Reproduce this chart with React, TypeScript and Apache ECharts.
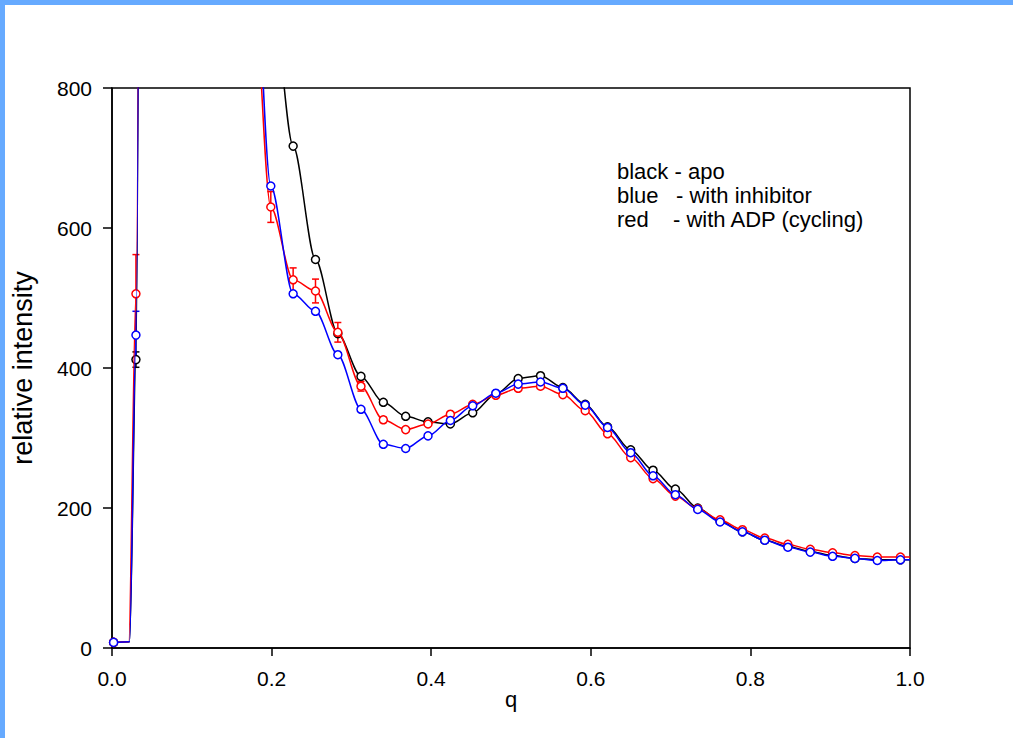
import React, { useEffect, useRef } from "react";
import * as echarts from "echarts";

// scattering vector q of the measured points (k = 0..35)
const Q = [
  0.002, 0.030, 0.058, 0.086, 0.114, 0.143, 0.171, 0.199, 0.227, 0.255,
  0.283, 0.312, 0.340, 0.368, 0.396, 0.424, 0.452, 0.481, 0.509, 0.537,
  0.565, 0.593, 0.621, 0.650, 0.678, 0.706, 0.734, 0.762, 0.790, 0.818,
  0.847, 0.875, 0.903, 0.931, 0.959, 0.988,
];

// black - apo
const APO = [
  8, 412, 12000, 9000, 6000, 3000, 1500, 950, 717, 555,
  449, 388, 351, 331, 323, 320, 336, 363, 385, 389,
  372, 348, 316, 283, 254, 227, 200, 181, 166, 154,
  145, 138, 132, 128, 126, 126,
];
const APO_ERR = [
  0, 11, 0, 0, 0, 0, 0, 0, 0, 0, 0, 0, 0, 0, 0, 0, 0, 0, 0, 0,
  0, 0, 0, 0, 0, 0, 0, 0, 0, 0, 0, 0, 0, 0, 0, 0,
];

// red - with ADP (cycling)
const ADP = [
  8, 506, 12000, 9000, 5000, 2500, 1080, 630, 526, 510,
  451, 374, 326, 312, 320, 334, 348, 361, 371, 374,
  362, 339, 306, 272, 242, 217, 199, 183, 169, 157,
  148, 141, 136, 132, 130, 130,
];
const ADP_ERR = [
  0, 56, 0, 0, 0, 0, 0, 22, 17, 17, 14, 7, 4, 3, 0, 0, 0, 0, 0, 0,
  0, 0, 0, 0, 0, 0, 0, 0, 0, 0, 0, 0, 0, 0, 0, 0,
];

// blue - with inhibitor
const INHIB = [
  8, 447, 12000, 9000, 5500, 2800, 1180, 660, 506, 481,
  419, 341, 291, 285, 303, 325, 346, 364, 377, 380,
  371, 347, 315, 279, 246, 219, 198, 180, 166, 154,
  144, 137, 131, 128, 125, 126,
];
const INHIB_ERR = [
  0, 34, 0, 0, 0, 0, 0, 0, 0, 0, 0, 0, 0, 0, 0, 0, 0, 0, 0, 0,
  0, 0, 0, 0, 0, 0, 0, 0, 0, 0, 0, 0, 0, 0, 0, 0,
];

// curve knot (no marker) where the flat start turns upward, and end of curve
const KNEE_Q = { apo: 0.022, adp: 0.021, inhib: 0.022 };
const KNEE_V = 9;
const END_Q = 1.0;

const X_TICKS = [0, 0.2, 0.4, 0.6, 0.8, 1.0];
const Y_TICKS = [0, 200, 400, 600, 800];

const LEGEND_LINES = [
  { name: "black - apo", rest: "" },
  { name: "blue", rest: "- with inhibitor" },
  { name: "red", rest: "- with ADP (cycling)" },
];

const FONT = "'Liberation Sans', Arial, Helvetica, sans-serif";

function buildLine(vals: number[], kneeQ: number) {
  const out: any[] = [];
  vals.forEach((v, i) => {
    out.push([Q[i], v]);
    if (i === 0) out.push({ value: [kneeQ, KNEE_V], symbol: "none" });
  });
  out.push({ value: [END_Q, vals[vals.length - 1]], symbol: "none" });
  return out;
}

function buildErr(vals: number[], errs: number[]) {
  const out: number[][] = [];
  errs.forEach((e, i) => {
    if (e > 0) out.push([Q[i], vals[i], e]);
  });
  return out;
}

function lineSeries(name: string, color: string, data: any[], z: number) {
  return {
    name,
    type: "line",
    data,
    smooth: 0.3,
    smoothMonotone: "x",
    symbol: "circle",
    symbolSize: 8,
    clip: true,
    z,
    lineStyle: { color, width: 1.5 },
    itemStyle: { color: "#ffffff", borderColor: color, borderWidth: 1.5 },
    emphasis: { disabled: true },
  };
}

function errSeries(color: string, data: number[][], z: number) {
  return {
    type: "custom",
    data,
    z,
    clip: true,
    encode: { x: 0, y: 1 },
    renderItem: (_p: any, api: any) => {
      const x = api.value(0);
      const y = api.value(1);
      const e = api.value(2);
      const top = api.coord([x, y + e]);
      const bot = api.coord([x, y - e]);
      const hw = 3.5;
      const style = { stroke: color, lineWidth: 1.5 };
      return {
        type: "group",
        children: [
          { type: "line", shape: { x1: top[0], y1: top[1], x2: bot[0], y2: bot[1] }, style },
          { type: "line", shape: { x1: top[0] - hw, y1: top[1], x2: top[0] + hw, y2: top[1] }, style },
          { type: "line", shape: { x1: bot[0] - hw, y1: bot[1], x2: bot[0] + hw, y2: bot[1] }, style },
        ],
      };
    },
  };
}

export default function App() {
  const ref = useRef<HTMLDivElement>(null);
  useEffect(() => {
    document.body.style.margin = "0";
    if (!ref.current) return;
    const chart = echarts.init(ref.current, undefined, { renderer: "svg" });
    const legendX = 617;
    const legendRestX = [0, 676, 673];
    const legendY = [171.5, 195.5, 219.5];
    const legendTexts: any[] = [];
    LEGEND_LINES.forEach((l, i) => {
      legendTexts.push({
        type: "text",
        x: legendX,
        y: legendY[i],
        style: { text: l.name, fill: "#000", font: `22px ${FONT}`, verticalAlign: "middle", align: "left" },
        silent: true,
      });
      if (l.rest) {
        legendTexts.push({
          type: "text",
          x: legendRestX[i],
          y: legendY[i],
          style: { text: l.rest, fill: "#000", font: `22px ${FONT}`, verticalAlign: "middle", align: "left" },
          silent: true,
        });
      }
    });
    chart.setOption({
      animation: false,
      backgroundColor: "#ffffff",
      textStyle: { fontFamily: FONT },
      grid: {
        left: 112,
        right: 103,
        top: 88,
        bottom: 90,
        show: true,
        borderColor: "#000",
        borderWidth: 1.5,
        backgroundColor: "transparent",
      },
      xAxis: {
        type: "value",
        min: X_TICKS[0],
        max: X_TICKS[X_TICKS.length - 1],
        interval: 0.2,
        name: "q",
        nameLocation: "middle",
        nameGap: 40,
        nameMoveOverlap: false,
        nameTextStyle: { fontSize: 22, color: "#000", fontFamily: FONT },
        axisLine: { show: true, onZero: false, lineStyle: { color: "#000", width: 1.5 } },
        axisTick: { show: true, inside: false, length: 8, lineStyle: { color: "#000", width: 1.5 } },
        axisLabel: {
          fontSize: 21,
          color: "#000",
          margin: 20,
          fontFamily: FONT,
          formatter: (v: number) => v.toFixed(1),
        },
        splitLine: { show: false },
      },
      yAxis: {
        type: "value",
        min: Y_TICKS[0],
        max: Y_TICKS[Y_TICKS.length - 1],
        interval: 200,
        name: "relative intensity",
        nameLocation: "middle",
        nameGap: 76,
        nameRotate: 90,
        nameMoveOverlap: false,
        nameTextStyle: { fontSize: 27, color: "#000", fontFamily: FONT },
        axisLine: { show: true, onZero: false, lineStyle: { color: "#000", width: 1.5 } },
        axisTick: { show: true, inside: false, length: 9, lineStyle: { color: "#000", width: 1.5 } },
        axisLabel: { fontSize: 21, color: "#000", margin: 20, fontFamily: FONT },
        splitLine: { show: false },
      },
      graphic: [
        { type: "rect", left: 0, top: 0, shape: { width: 5, height: 738 }, style: { fill: "#66aaff" }, silent: true },
        { type: "rect", left: 0, top: 0, shape: { width: 1013, height: 5 }, style: { fill: "#66aaff" }, silent: true },
        ...legendTexts,
      ],
      series: [
        errSeries("#000000", buildErr(APO, APO_ERR), 1),
        errSeries("#ff0000", buildErr(ADP, ADP_ERR), 1),
        errSeries("#0000ff", buildErr(INHIB, INHIB_ERR), 1),
        lineSeries("black - apo", "#000000", buildLine(APO, KNEE_Q.apo), 2),
        lineSeries("red - with ADP (cycling)", "#ff0000", buildLine(ADP, KNEE_Q.adp), 3),
        lineSeries("blue - with inhibitor", "#0000ff", buildLine(INHIB, KNEE_Q.inhib), 4),
      ],
    });
    return () => chart.dispose();
  }, []);
  return <div ref={ref} style={{ width: 1013, height: 738, background: "#fff" }} />;
}
